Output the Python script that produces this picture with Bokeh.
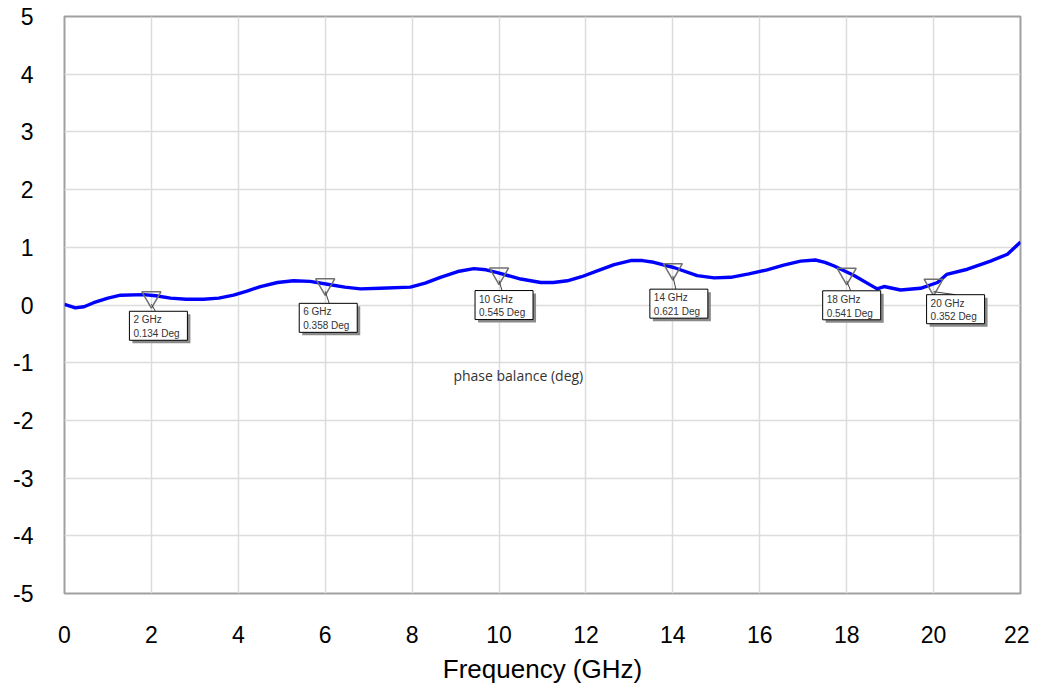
from bokeh.plotting import figure
from bokeh.models import Range1d, FixedTicker
from bokeh.core.properties import value
from bokeh.embed import file_html
from bokeh.resources import INLINE

# ---- data ----
freq = [0.0, 0.25, 0.45, 0.67, 1.0, 1.29, 1.82, 2.1, 2.44, 2.8, 3.2, 3.55, 3.89, 4.2, 4.51,
        4.9, 5.27, 5.65, 6.05, 6.45, 6.81, 7.27, 7.96, 8.3, 8.65, 9.05, 9.42, 9.7, 9.96, 10.5,
        10.96, 11.25, 11.57, 11.9, 12.26, 12.65, 13.03, 13.3, 13.56, 14.02, 14.56, 14.95, 15.33,
        15.75, 16.17, 16.55, 16.94, 17.28, 17.5, 17.7, 18.17, 18.63, 18.7, 18.86, 19.24, 19.7,
        20.09, 20.3, 20.78, 21.31, 21.7, 22.0]
phase = [0.01, -0.05, -0.03, 0.04, 0.12, 0.17, 0.18, 0.16, 0.12, 0.10, 0.10, 0.12, 0.17, 0.24, 0.32,
         0.39, 0.42, 0.41, 0.36, 0.31, 0.28, 0.29, 0.31, 0.38, 0.48, 0.58, 0.63, 0.61, 0.56, 0.45,
         0.39, 0.39, 0.42, 0.49, 0.59, 0.70, 0.77, 0.77, 0.74, 0.65, 0.51, 0.47, 0.48,
         0.54, 0.61, 0.69, 0.76, 0.78, 0.74, 0.68, 0.51, 0.31, 0.28, 0.32, 0.26, 0.29,
         0.39, 0.53, 0.62, 0.76, 0.88, 1.09]

marker_freq = [2, 6, 10, 14, 18, 20]
marker_val = [0.134, 0.358, 0.545, 0.621, 0.541, 0.352]
marker_text = ["2 GHz\n0.134 Deg", "6 GHz\n0.358 Deg", "10 GHz\n0.545 Deg",
               "14 GHz\n0.621 Deg", "18 GHz\n0.541 Deg", "20 GHz\n0.352 Deg"]

x_ticks = list(range(0, 23, 2))
y_ticks = list(range(-5, 6))
y_tick_labels = {t: str(t) for t in y_ticks}
x_label = "Frequency (GHz)"
trace_label = "phase balance (deg)"

# ---- layout (pixels) ----
FW, FH = 956, 577
XMIN, XMAX, YMIN, YMAX = 0, 22, -5, 5
ppx = FW / (XMAX - XMIN)
ppy = FH / (YMAX - YMIN)

# marker box placement offsets in screen pixels (down is positive)
box_dx = [-22, -26, -24, -23, -24, -7]
box_dy = [14, 19, 17, 20, 17, 10]
lead_dx = [4, 4, 3, 3, 4, 22]
BOX_W, BOX_H = 58, 29
SHADOW = 3

p = figure(width=64 + FW + 9, height=16 + FH + 80, frame_width=FW, frame_height=FH,
           x_range=Range1d(XMIN, XMAX), y_range=Range1d(YMIN, YMAX),
           output_backend="svg", toolbar_location=None,
           min_border_left=64, min_border_top=16, min_border_right=9, min_border_bottom=80,
           background_fill_color="white", border_fill_color="white")

p.outline_line_color = "#a0a0a0"
p.outline_line_width = 2
p.grid.grid_line_color = "#dcdcdc"
p.grid.grid_line_width = 1.5
p.xaxis.ticker = FixedTicker(ticks=x_ticks)
p.yaxis.ticker = FixedTicker(ticks=y_ticks)
p.yaxis.major_label_overrides = y_tick_labels
for ax in (p.xaxis, p.yaxis):
    ax.axis_line_color = None
    ax.major_tick_line_color = None
    ax.minor_tick_line_color = None
    ax.major_tick_out = 0
    ax.major_tick_in = 0
    ax.major_label_text_font = "Liberation Sans"
    ax.major_label_text_font_size = "23px"
    ax.major_label_text_color = "black"
p.yaxis.major_label_standoff = 31
p.xaxis.major_label_standoff = 32
p.xaxis.axis_label = x_label
p.xaxis.axis_label_text_font = "Liberation Sans"
p.xaxis.axis_label_text_font_size = "26px"
p.xaxis.axis_label_text_font_style = "normal"
p.xaxis.axis_label_text_color = "black"
p.xaxis.axis_label_standoff = 8

# trace
p.line(freq, phase, line_color="#0000ff", line_width=3.4, line_join="round")

# markers
p.scatter(marker_freq, marker_val, marker="inverted_triangle", size=19,
          fill_color="white", fill_alpha=0.0, line_color="#707070", line_width=1.5)

tip_y = [v - 7 / ppy for v in marker_val]
lx0 = list(marker_freq)
lx1 = [f + d / ppx for f, d in zip(marker_freq, lead_dx)]
ly1 = [v - (dy) / ppy for v, dy in zip(marker_val, box_dy)]
p.segment(lx0, tip_y, lx1, ly1, line_color="#404040", line_width=1)

left = [f + d / ppx for f, d in zip(marker_freq, box_dx)]
top = [v - dy / ppy for v, dy in zip(marker_val, box_dy)]
right = [l + BOX_W / ppx for l in left]
bottom = [t - BOX_H / ppy for t in top]
p.quad(left=[l + SHADOW / ppx for l in left], right=[r + SHADOW / ppx for r in right],
       top=[t - SHADOW / ppy for t in top], bottom=[b - SHADOW / ppy for b in bottom],
       fill_color="#8a8a8a", line_color=None)
p.quad(left=left, right=right, top=top, bottom=bottom,
       fill_color="white", line_color="black", line_width=1)
p.text([l + 4 / ppx for l in left], [t - 3 / ppy for t in top], text=marker_text,
       text_font=value("Liberation Sans"), text_font_size="10px", text_color="#333333",
       text_align="left", text_baseline="top", text_line_height=1.25)

p.text([8.95], [-1.23], text=[trace_label], text_font=value("Open Sans"),
       text_font_size="14px", text_color="#333333", text_align="left", text_baseline="middle")

open("out.html", "w").write(file_html(p, INLINE))
